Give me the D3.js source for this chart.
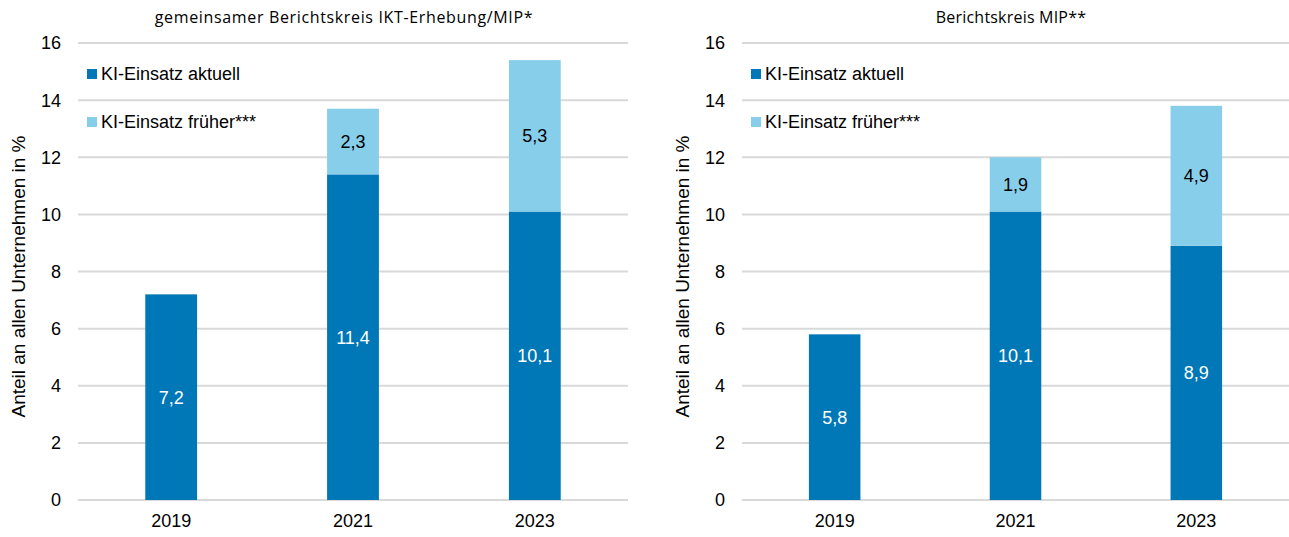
<!DOCTYPE html>
<html>
<head>
<meta charset="utf-8">
<script src="https://cdn.jsdelivr.net/npm/d3@7"></script>
<style>
  body { margin: 0; background: #fff; }
  svg { display: block; font-family: "Liberation Sans", Arial, sans-serif; }
</style>
</head>
<body>
<svg id="chart" width="1289" height="537"></svg>
<script>
const years = ["2019", "2021", "2023"];
const seriesNames = ["KI-Einsatz aktuell", "KI-Einsatz früher***"];
const colors = ["#0077b6", "#87ceeb"];
const labelColors = ["#fff", "#000"];
const yTicks = [0, 2, 4, 6, 8, 10, 12, 14, 16];

// left panel: gemeinsamer Berichtskreis
const leftTitle = "gemeinsamer Berichtskreis IKT-Erhebung/MIP*";
const leftAktuell = [7.2, 11.4, 10.1];
const leftFrueher = [null, 2.3, 5.3];

// right panel: Berichtskreis MIP
const rightTitle = "Berichtskreis MIP**";
const rightAktuell = [5.8, 10.1, 8.9];
const rightFrueher = [null, 1.9, 4.9];

const yTitle = "Anteil an allen Unternehmen in %";
const fmt = (v) => d3.format(".1f")(v).replace(".", ",");

const svg = d3.select("#chart");

function drawPanel(opts) {
  const { x0, x1, title, titleX, titleSpacing, aktuell, frueher } = opts;
  const top = 43, bottom = 500;
  const g = svg.append("g");

  const x = d3.scaleBand().domain(years).range([x0, x1]).paddingInner(0.715).paddingOuter(0.37);
  const y = d3.scaleLinear().domain([0, 16]).range([bottom, top]);

  // gridlines
  g.append("g")
    .selectAll("line")
    .data(yTicks)
    .join("line")
    .attr("x1", x0)
    .attr("x2", x1)
    .attr("y1", (d) => y(d))
    .attr("y2", (d) => y(d))
    .attr("stroke", "#d9d9d9")
    .attr("stroke-width", 2);

  // y tick labels
  g.append("g")
    .selectAll("text")
    .data(yTicks)
    .join("text")
    .attr("x", x0 - 17)
    .attr("y", (d) => y(d))
    .attr("dy", "0.36em")
    .attr("text-anchor", "end")
    .attr("font-size", 18)
    .attr("fill", "#000")
    .text((d) => d);

  // stacked data
  const rows = years.map((yr, i) => ({ year: yr, a: aktuell[i], f: frueher[i] || 0 }));
  const stacked = d3.stack().keys(["a", "f"])(rows);

  stacked.forEach((layer, k) => {
    const segs = layer.filter((d) => d[1] - d[0] > 0);
    g.append("g")
      .selectAll("rect")
      .data(segs)
      .join("rect")
      .attr("x", (d) => x(d.data.year))
      .attr("width", x.bandwidth())
      .attr("y", (d) => y(d[1]))
      .attr("height", (d) => y(d[0]) - y(d[1]))
      .attr("fill", colors[k]);

    g.append("g")
      .selectAll("text")
      .data(segs)
      .join("text")
      .attr("x", (d) => x(d.data.year) + x.bandwidth() / 2)
      .attr("y", (d) => y((d[0] + d[1]) / 2))
      .attr("dy", "0.36em")
      .attr("text-anchor", "middle")
      .attr("font-size", 18)
      .attr("fill", labelColors[k])
      .text((d) => fmt(d[1] - d[0]));
  });

  // x labels
  const xAxis = g.append("g")
    .attr("transform", `translate(0,${bottom})`)
    .call(d3.axisBottom(x).tickSize(0).tickPadding(14));
  xAxis.select(".domain").remove();
  xAxis.selectAll("text")
    .attr("font-size", 18)
    .attr("font-family", "Liberation Sans, Arial, sans-serif")
    .attr("fill", "#000");

  // title
  g.append("text")
    .attr("x", titleX)
    .attr("y", 23)
    .attr("text-anchor", "middle")
    .attr("font-family", "Open Sans, sans-serif")
    .attr("font-size", 16)
    .attr("letter-spacing", titleSpacing)
    .attr("fill", "#000")
    .text(title);

  // y title
  g.append("text")
    .attr("transform", `translate(${x0 - 53},${(top + bottom) / 2 + 5}) rotate(-90)`)
    .attr("text-anchor", "middle")
    .attr("font-size", 19)
    .attr("fill", "#000")
    .text(yTitle);

  // legend
  const leg = g.append("g")
    .selectAll("g")
    .data(seriesNames)
    .join("g")
    .attr("transform", (d, i) => `translate(${x0 + 9},${74 + i * 48})`);
  leg.append("rect")
    .attr("x", 0)
    .attr("y", -5)
    .attr("width", 10)
    .attr("height", 10)
    .attr("fill", (d, i) => colors[i]);
  leg.append("text")
    .attr("x", 14)
    .attr("dy", "0.36em")
    .attr("font-size", 18)
    .attr("fill", "#000")
    .text((d) => d);
}

drawPanel({ x0: 78, x1: 628, title: leftTitle, titleX: 344, titleSpacing: 0.65, aktuell: leftAktuell, frueher: leftFrueher });
drawPanel({ x0: 742, x1: 1289, title: rightTitle, titleX: 1011, titleSpacing: 0.2, aktuell: rightAktuell, frueher: rightFrueher });
</script>
</body>
</html>
